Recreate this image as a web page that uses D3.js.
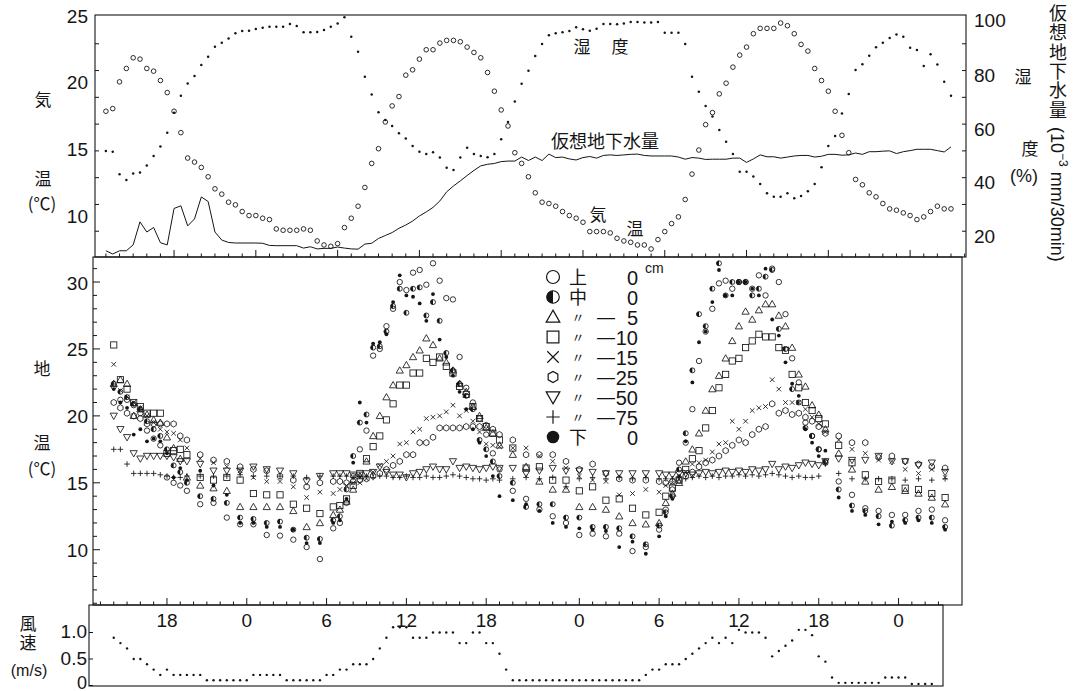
<!DOCTYPE html>
<html lang="ja">
<head>
<meta charset="utf-8">
<title>気温・湿度・地温・風速</title>
<script src="https://cdn.jsdelivr.net/npm/d3@7/dist/d3.min.js"></script>
<style>
  html, body { margin: 0; padding: 0; background: #fff; }
  svg { display: block; }
  text { fill: #151515; }
  .num { font-family: "Liberation Sans", Arial, sans-serif; }
  .jp { font-family: "Noto Sans CJK JP", "Noto Sans CJK SC", sans-serif; }
</style>
</head>
<body>
<svg id="chart" width="1076" height="691"></svg>
<script>
// ---------- Air record (half-hourly from 13:00, hours counted from day-1 00:00) ----------
const airStartHour = 13;
const airStepHour = 0.5;
const airTemp = [
  17.8,18.0,20.0,21.0,21.8,21.7,21.0,20.8,20.1,19.2,
  17.8,16.2,14.3,14.0,13.6,12.9,12.0,11.6,11.0,10.8,
  10.3,10.0,10.0,9.8,9.7,9.0,8.9,8.9,8.9,9.0,
  8.9,8.1,7.8,7.7,7.9,9.1,9.8,10.7,12.1,13.9,
  15.0,17.0,18.2,18.9,20.5,20.9,21.7,22.4,22.4,22.9,
  23.1,23.1,23.0,22.6,22.2,21.8,20.7,19.3,17.9,16.7,
  14.7,13.9,12.9,11.7,11.0,10.9,10.7,10.3,10.0,9.8,
  9.5,8.8,8.8,8.8,8.7,8.3,8.1,8.0,7.8,7.8,
  7.5,8.2,8.8,9.4,9.9,11.2,13.1,14.9,16.8,17.7,
  19.1,19.9,21.1,22.0,22.6,23.6,24.0,24.0,24.0,24.4,
  24.2,23.6,22.8,22.3,21.0,20.1,19.3,17.8,16.0,14.7,
  12.7,12.3,11.7,11.4,10.9,10.5,10.4,10.2,10.0,9.7,
  9.9,10.3,10.7,10.5,10.5
];
const humidity = [
  50.0,49.7,41.3,39.1,41.6,41.9,44.5,48.1,51.6,56.8,
  64.2,70.6,75.2,78.0,82.1,85.2,88.9,90.4,92.0,93.9,
  94.8,94.9,95.5,96.0,96.4,96.4,96.4,97.4,96.6,94.3,
  94.3,94.4,95.1,96.4,97.6,99.9,92.6,87.0,77.7,71.1,
  64.4,61.5,59.3,56.6,54.6,51.8,49.7,48.8,49.5,47.5,
  43.7,42.9,47.5,51.2,48.8,48.1,47.6,48.8,54.3,60.8,
  68.4,75.1,79.9,85.4,89.9,93.2,93.9,94.3,94.8,96.2,
  95.4,94.9,95.6,97.4,97.4,97.3,97.6,98.1,98.1,97.9,
  97.9,98.1,94.1,94.1,94.1,89.9,77.7,72.1,66.8,62.8,
  57.8,53.4,48.8,42.2,42.2,40.4,37.6,34.2,32.9,32.9,
  34.2,32.3,33.2,34.9,37.6,43.9,51.8,55.6,64.0,71.2,
  80.2,82.4,85.5,88.7,90.4,92.2,93.5,92.6,88.5,87.7,
  81.7,86.1,82.3,75.8,70.6
];
// virtual groundwater amount (10^-3 mm / 30 min), same right-hand scale
const groundwater = [
  12.7,11.5,12.7,12.7,14.9,23.5,19.7,21.4,15.7,14.9,
  28.5,29.5,22.0,24.6,32.8,31.1,19.7,16.7,15.8,15.6,
  15.6,15.6,15.6,15.5,14.7,14.6,14.6,14.6,14.6,13.7,
  14.2,13.4,13.6,13.6,14.1,13.7,13.4,13.3,15.2,15.5,
  17.3,18.4,19.5,21.1,22.3,23.8,25.7,27.2,28.9,31.3,
  34.7,36.9,38.8,40.8,42.7,44.4,45.0,45.3,46.0,46.2,
  46.2,47.7,46.4,47.7,46.4,48.8,47.5,47.7,47.0,46.6,
  47.5,47.9,47.3,48.3,48.5,48.3,48.5,48.7,48.8,48.3,
  48.1,48.1,48.1,48.1,47.7,46.9,47.5,47.3,46.8,46.9,
  46.9,46.9,47.3,47.3,45.7,47.0,48.5,47.8,47.8,47.3,
  47.7,48.1,48.3,48.3,47.7,48.0,48.7,48.7,48.4,48.5,
  49.2,48.7,49.7,49.7,49.9,50.0,49.0,49.7,50.1,50.6,
  50.6,50.6,50.1,49.6,51.5
];

// ---------- Wind speed (m/s), half-hourly on the lower time axis ----------
const windStartHour = 14;
const windStepHour = 0.5;
const windSpeed = [
  0.9,0.8,0.7,0.5,0.5,0.4,0.3,0.2,0.3,0.2,0.2,0.2,0.2,0.2,
  0.1,0.1,0.1,0.1,0.1,0.1,0.1,0.2,0.2,0.2,0.2,0.2,
  0.1,0.1,0.1,0.1,0.1,0.1,0.2,0.2,0.3,0.3,0.4,0.4,0.4,0.5,0.7,0.9,
  1.1,1.1,1.1,0.9,0.9,0.9,1.0,1.0,1.0,1.0,0.8,0.8,1.0,1.0,0.8,0.8,0.6,0.3,
  0.1,0.1,0.1,0.1,0.1,0.1,0.1,0.1,0.1,0.1,0.1,0.1,0.1,0.1,0.1,0.1,0.1,0.1,0.1,0.1,
  0.2,0.3,0.3,0.4,0.4,0.4,0.5,0.6,0.7,0.8,0.9,0.8,0.9,0.8,1.05,1.0,1.0,1.0,0.9,
  0.55,0.65,0.75,0.85,1.05,1.05,0.95,0.55,0.45,0.15,
  0.05,0.05,0.05,0.05,0.05,0.05,0.05,0.15,0.15,0.15,0.15,0.03,0.03,0.03,0.03
];

// ---------- Soil temperature (deg C) at the sampling hours of the lower time axis ----------
const soilHours = [
  14,14.5,15,15.5,16,16.5,17,17.5,18,18.5,19,19.5,
  20.5,21.5,22.5,23.5,24.5,25.5,26.5,27.5,28.5,29.5,30.5,
  31,31.5,32,32.5,33,33.5,34,34.5,35,35.5,36,36.5,37,37.5,38,38.5,39,39.5,40,40.5,41,41.5,42,42.5,43,
  44,45,46,47,48,49,50,51,52,53,54,55,
  55.5,56,56.5,57,57.5,58,58.5,59,59.5,60,60.5,61,61.5,62,62.5,63,63.5,64,64.5,65,65.5,66,66.5,67,
  67.5,68.5,69.5,70.5,71.5,72.5,73.5,74.5,75.5,76.5
];
const soilUpper0 = [
  22.2,21.2,21.2,20.8,20.2,18.9,18.3,17.8,15.4,15.0,14.8,14.4,
  13.4,13.5,12.4,11.9,11.9,11.1,11.05,10.75,10.2,9.3,11.6,
  12.0,13.5,15.5,17.5,18.9,24.5,25.0,26.7,28.0,30.0,29.4,30.7,30.9,29.8,31.4,30.1,28.8,28.7,24.4,22.1,21.0,19.8,18.6,17.2,16.0,
  14.4,13.8,13.0,12.5,12.0,11.1,11.2,11.0,11.2,9.9,10.2,11.5,
  13.0,14.5,16.5,18.0,20.5,24.1,26.3,28.0,29.9,30.1,29.5,30.0,30.0,29.5,30.5,29.0,31.0,30.0,27.6,24.3,22.5,19.5,18.5,17.5,
  16.5,15.1,14.1,13.1,12.9,12.6,12.6,12.9,13.0,12.2
];
const soilMiddle0 = [
  22.4,21.8,21.4,20.9,20.5,19.6,19.0,18.5,17.5,16.3,15.8,15.0,
  14.0,13.8,13.5,12.4,12.3,12.0,12.1,11.5,10.9,10.8,12.2,
  12.5,14.5,17.0,19.5,20.1,25.1,25.2,26.3,28.2,29.5,27.7,29.5,29.6,27.5,28.5,27.1,24.7,23.4,22.4,21.5,20.5,18.2,17.5,16.6,15.5,
  15.0,13.2,13.4,13.4,12.4,12.4,11.7,11.7,11.6,11.0,10.4,11.8,
  12.8,14.0,16.0,18.7,23.4,27.6,26.7,29.5,31.4,29.0,30.0,30.0,30.0,29.0,29.5,30.4,30.9,26.5,25.0,22.0,21.0,19.1,18.5,17.5,
  16.6,14.5,13.3,12.9,12.5,11.8,12.2,12.4,12.4,11.7
];
const soilMinus5 = [
  22.4,22.7,22.4,20.0,20.5,20.1,19.7,19.5,18.4,17.6,16.8,15.4,
  14.8,14.6,14.4,13.2,13.2,13.2,13.2,12.9,11.7,12.0,12.6,
  13.0,13.6,14.5,15.5,16.6,18.5,20.0,21.4,22.3,23.4,23.8,24.4,24.9,25.8,25.3,24.3,24.0,23.4,22.4,21.8,20.7,20.0,19.1,18.7,17.8,
  17.1,16.2,15.1,14.5,14.5,13.2,13.2,13.0,12.5,12.0,11.9,12.0,
  13.5,14.2,15.0,16.6,17.5,18.7,20.4,22.0,23.0,24.3,25.6,26.7,27.8,27.2,27.9,28.35,28.35,27.5,26.7,25.1,23.1,22.2,20.8,20.1,
  19.0,17.2,16.0,15.1,14.5,14.7,14.4,14.2,13.9,13.4
];
const soilMinus10 = [
  25.3,22.7,22.0,21.0,20.7,20.2,20.2,20.2,17.2,17.4,17.5,17.1,
  15.4,15.2,15.4,15.2,14.2,14.1,14.1,13.4,13.1,12.7,13.2,
  13.3,13.8,14.8,15.7,16.8,17.7,18.5,19.7,20.9,22.3,22.3,23.2,23.2,24.3,24.0,24.4,23.7,23.2,22.2,21.6,20.7,19.8,19.2,18.7,18.2,
  17.6,16.1,16.2,15.2,15.2,14.4,14.7,13.7,13.8,13.1,12.6,12.8,
  14.0,14.6,15.2,16.0,16.8,17.4,19.1,20.4,22.1,23.1,24.1,24.3,25.1,25.6,26.1,25.9,25.9,25.1,24.9,23.1,22.1,21.0,20.4,19.8,
  19.4,17.8,16.5,15.6,15.1,15.2,14.6,14.5,14.2,13.9
];
const soilMinus15 = [
  23.85,21.9,21.4,21.0,20.6,20.0,19.5,19.0,18.8,18.7,18.2,17.6,
  16.8,16.5,16.2,15.9,15.4,15.1,15.1,14.7,13.9,14.3,14.2,
  14.5,14.8,15.0,15.0,15.3,15.8,16.3,16.6,17.0,17.9,18.0,18.8,19.0,19.8,19.9,20.0,20.3,20.8,20.0,20.4,19.6,18.8,17.9,17.8,17.7,
  17.6,17.6,17.0,16.6,16.1,15.5,15.2,15.1,14.1,14.2,14.5,14.3,
  14.8,15.0,15.3,15.8,16.4,16.5,16.7,17.3,17.9,18.0,19.6,19.0,19.6,20.4,20.6,20.7,22.7,22.0,21.0,21.0,21.0,20.5,19.9,19.4,
  18.8,18.2,17.5,17.2,16.7,16.6,16.0,15.7,16.0,15.4
];
const soilMinus25 = [
  21.0,20.6,20.2,20.0,19.8,19.4,19.4,19.4,19.4,19.4,18.5,18.2,
  17.1,16.7,16.6,16.2,16.0,15.9,15.5,15.2,14.7,15.0,15.1,
  15.1,15.0,15.1,15.2,15.3,15.5,15.7,16.0,16.3,16.6,17.1,17.1,18.0,18.0,18.4,19.1,19.1,19.1,19.1,19.2,19.2,19.2,19.3,19.0,18.6,
  18.2,17.1,17.1,17.1,16.6,16.0,16.4,15.7,15.3,15.2,15.2,15.1,
  15.0,15.1,15.2,15.5,15.8,16.2,16.5,16.7,17.0,17.4,17.8,18.2,18.0,18.6,19.0,19.2,20.9,20.2,20.4,20.1,20.2,19.9,19.6,19.2,
  18.7,18.5,18.0,18.0,16.9,17.0,16.6,16.4,16.2,16.1
];
const soilMinus50 = [
  20.0,19.0,18.4,17.2,16.8,17.0,17.0,17.0,17.0,16.9,16.6,16.6,
  16.4,15.9,15.9,15.9,16.2,16.0,15.9,15.7,15.1,15.5,15.7,
  15.7,15.7,15.6,15.6,15.7,15.8,16.2,15.8,15.6,15.6,15.4,15.7,15.8,16.0,16.2,16.0,16.0,16.6,16.1,16.2,16.1,16.0,16.1,16.2,16.1,
  16.1,15.7,15.9,16.1,15.9,15.9,15.8,15.7,15.7,15.7,15.7,15.7,
  15.6,15.6,15.7,15.7,15.6,15.7,15.8,15.7,15.8,15.9,15.8,15.9,15.8,16.0,15.9,16.0,16.4,16.0,16.2,16.1,16.3,16.5,16.4,16.3,
  16.6,16.8,16.7,16.7,17.0,16.6,16.6,16.3,16.5,15.8
];
const soilMinus75 = [
  17.5,17.5,16.4,15.7,15.7,15.7,15.7,15.6,15.5,15.4,15.4,15.5,
  15.5,15.5,15.5,15.6,15.5,15.5,15.5,15.5,15.4,15.5,15.5,
  15.5,15.5,15.4,15.5,15.5,15.4,15.5,15.5,15.4,15.4,15.5,15.4,15.4,15.5,15.4,15.4,15.5,15.6,15.5,15.4,15.3,15.3,15.2,15.3,15.2,
  15.3,15.4,15.3,15.4,14.7,15.3,15.4,15.3,15.4,15.3,15.4,15.3,
  15.3,15.3,15.4,15.3,15.4,15.5,15.4,15.5,15.4,15.5,15.5,15.6,15.5,15.6,15.5,15.6,15.7,15.6,15.5,15.4,15.5,15.4,15.4,15.5,
  16.4,15.7,15.3,15.3,15.3,15.3,15.2,15.3,15.2,15.3
];
const soilLower0 = [
  22.0,21.0,20.6,18.6,19.0,18.1,18.3,18.1,17.2,15.4,16.1,15.2,
  15.9,14.8,14.1,12.0,12.0,11.7,11.7,11.5,10.5,10.5,12.0,
  12.2,13.8,16.5,21.0,19.5,25.4,25.5,26.1,28.5,30.5,29.0,28.9,28.4,27.1,29.1,25.7,24.4,23.0,21.8,20.5,19.0,18.0,17.0,15.5,14.0,
  13.7,13.4,12.9,12.0,11.7,11.6,11.5,11.4,10.2,10.6,9.7,11.0,
  12.5,13.8,15.5,18.1,22.5,25.5,26.3,28.5,30.9,29.0,29.0,30.0,30.0,29.5,29.0,31.0,27.2,26.0,24.0,22.4,21.5,19.0,18.0,17.0,
  17.4,13.9,12.9,12.6,11.9,12.1,12.0,12.2,12.0,11.5
];

// ---------- Axis ticks and labels ----------
const topMajorHours = [18,24,30,36,42,48,54,60,66,72];
const lowTickHours = [18,24,30,36,42,49,55,61,67,73];
const lowTickLabels = ['18','0','6','12','18','0','6','12','18','0'];
const airTempTicks = [10,15,20,25];
const humidityTicks = [20,40,60,80,100];
const soilTempTicks = [10,15,20,25,30];
const windTicks = [0,0.5,1.0];
const windTickLabels = ['0','0.5','1.0'];

// legend: position label, depth (cm), marker
const legendPlace = ['上','中','〃','〃','〃','〃','〃','〃','下'];
const legendDepth = [0,0,-5,-10,-15,-25,-50,-75,0];
const legendKinds = ['circle','half','tri','square','cross','hex','tridown','plus','dot'];

// ---------- Layout ----------
const INK = '#151515';
const svg = d3.select('#chart');
const topBox = {l: 95, r: 966, t: 15, b: 257};
const midBox = {l: 93, r: 962, t: 257, b: 605};
const botBox = {l: 89, r: 943, t: 605, b: 686};

const xTop = d3.scaleLinear().domain([12.2, 76.1]).range([topBox.l, topBox.r]);
const xLow = d3.scaleLinear().domain([12.44, 77.77]).range([midBox.l, midBox.r]);
const yAir = d3.scaleLinear().domain([6.9, 25]).range([topBox.b, topBox.t]);
const yHum = d3.scaleLinear().domain([10, 100]).range([258, 17]);
const ySoil = d3.scaleLinear().domain([5.87, 31.87]).range([midBox.b, midBox.t]);
const yWind = d3.scaleLinear().domain([0, 1]).range([685.5, 632.5]);

function frame(b) {
  svg.append('rect')
    .attr('x', b.l).attr('y', b.t)
    .attr('width', b.r - b.l).attr('height', b.b - b.t)
    .attr('fill', 'none').attr('stroke', INK).attr('stroke-width', 1.1);
}
frame(topBox); frame(midBox); frame(botBox);

// ---------- Tick marks ----------
const tickG = svg.append('g').attr('stroke', INK).attr('stroke-width', 1);
// hourly ticks along the bottom of the top panel
tickG.selectAll('.tt').data(d3.range(13, 77)).join('line')
  .attr('x1', h => xTop(h)).attr('x2', h => xTop(h))
  .attr('y1', topBox.b).attr('y2', h => topBox.b - (topMajorHours.includes(h) ? 7 : 3.5));
// hourly ticks on the shared time axis of the lower panels
tickG.selectAll('.lt').data(d3.range(13, 78).filter(h => xLow(h) > botBox.l + 2 && xLow(h) < botBox.r - 2)).join('line')
  .attr('x1', h => xLow(h)).attr('x2', h => xLow(h))
  .attr('y1', midBox.b).attr('y2', h => midBox.b - (lowTickHours.includes(h) ? 7 : 3.5));
// humidity ticks on both sides of the top panel
tickG.selectAll('.hr').data(d3.range(20, 100, 10)).join('line')
  .attr('x1', topBox.r).attr('x2', topBox.r - 4)
  .attr('y1', d => yHum(d)).attr('y2', d => yHum(d));
tickG.selectAll('.hl').data(d3.range(20, 100, 10)).join('line')
  .attr('x1', topBox.l).attr('x2', topBox.l + 4)
  .attr('y1', d => yHum(d)).attr('y2', d => yHum(d));
// soil temperature ticks
tickG.selectAll('.sl').data(d3.range(6, 32)).join('line')
  .attr('x1', midBox.l).attr('x2', d => midBox.l + (d % 5 === 0 ? 7 : 4))
  .attr('y1', d => ySoil(d)).attr('y2', d => ySoil(d));
// wind ticks
tickG.selectAll('.wl').data(windTicks).join('line')
  .attr('x1', botBox.l).attr('x2', botBox.l + 4)
  .attr('y1', d => yWind(d)).attr('y2', d => yWind(d));

// ---------- Text helpers ----------
function label(x, y, str, opts = {}) {
  return svg.append('text')
    .attr('x', x).attr('y', y)
    .attr('class', opts.cls || 'num')
    .attr('font-size', opts.size || 19)
    .attr('text-anchor', opts.anchor || 'middle')
    .attr('dominant-baseline', 'central')
    .text(str);
}
// Japanese text set top to bottom; first glyph centred on (x, yFirst)
function vertical(x, yFirst, size, gap) {
  return svg.append('text')
    .attr('class', 'jp').attr('font-size', size)
    .attr('x', x).attr('y', yFirst - size / 2)
    .attr('writing-mode', 'vertical-rl')
    .attr('letter-spacing', gap);
}

airTempTicks.forEach(v => label(88, yAir(v) + 1, String(v), {anchor: 'end'}));
humidityTicks.forEach(v => label(974, yHum(v) + (v === 100 ? 3 : 5), String(v), {anchor: 'start'}));
soilTempTicks.forEach(v => label(88, ySoil(v) + 1, String(v), {anchor: 'end'}));
windTicks.forEach((v, i) => label(87, yWind(v) - (v === 0 ? 3 : 1), windTickLabels[i], {anchor: 'end', size: v === 0 ? 18 : 19}));
lowTickHours.forEach((h, i) => label(xLow(h), 620, lowTickLabels[i]));

// ---------- Axis titles ----------
const jp = {cls: 'jp', size: 17};
label(43, 98, '気', jp);
label(43, 177, '温', jp);
label(42, 202, '(℃)', jp);
label(42, 367, '地', jp);
label(42, 441, '温', jp);
label(42, 467, '(℃)', jp);
vertical(28, 624, 17, 2).text('風速');
label(29, 670, '(m/s)', {size: 16});
label(1023, 75, '湿', jp);
label(1030, 147, '度', jp);
label(1024, 176, '(%)', {size: 18});
// right-hand title, written top to bottom
vertical(1058, 13, 18, 1.4).text('仮想地下水量');
const unit = svg.append('text')
  .attr('class', 'num').attr('font-size', 18)
  .attr('transform', 'translate(1051,127) rotate(90)');
unit.append('tspan').text('(10');
unit.append('tspan').attr('font-size', 12).attr('dy', -8).text('−3');
unit.append('tspan').attr('dy', 8).text(' mm/30min)');

// annotations inside the top panel
label(582, 45, '湿', jp);
label(620, 45, '度', jp);
label(605, 140, '仮想地下水量', {cls: 'jp', size: 18});
label(598, 213, '気', jp);
label(635, 227, '温', jp);

// ---------- Top panel: air temperature, humidity, groundwater ----------
const airHours = airTemp.map((_, i) => airStartHour + i * airStepHour);
const topG = svg.append('g');
topG.append('path')
  .datum(groundwater.map((v, i) => [airHours[i], v]))
  .attr('fill', 'none').attr('stroke', INK).attr('stroke-width', 1)
  .attr('d', d3.line().x(d => xTop(d[0])).y(d => yHum(d[1])));
topG.selectAll('.hum').data(humidity).join('circle')
  .attr('cx', (d, i) => xTop(airHours[i])).attr('cy', d => yHum(d))
  .attr('r', 1.25).attr('fill', INK);
topG.selectAll('.air').data(airTemp).join('circle')
  .attr('cx', (d, i) => xTop(airHours[i])).attr('cy', d => yAir(d))
  .attr('r', 2.3).attr('fill', 'none').attr('stroke', INK).attr('stroke-width', 0.9);

// ---------- Markers ----------
function addMarker(g, kind, s, sw) {
  const p = d3.path();
  const stroke = {fill: 'none', stroke: INK, 'stroke-width': sw};
  const apply = (sel, attrs) => { Object.entries(attrs).forEach(([k, v]) => sel.attr(k, v)); return sel; };
  switch (kind) {
    case 'circle':
      apply(g.append('circle').attr('r', 2.7 * s), stroke); break;
    case 'half': {
      const r = 2.5 * s;
      apply(g.append('circle').attr('r', r), stroke);
      g.append('path').attr('d', `M0,${-r}A${r},${r} 0 0 0 0,${r}Z`).attr('fill', INK);
      break;
    }
    case 'dot':
      g.append('circle').attr('r', 1.9 * s).attr('fill', INK); break;
    case 'tri': {
      const a = 3.6 * s;
      apply(g.append('path').attr('d', `M0,${-a}L${a},${a * 0.75}L${-a},${a * 0.75}Z`), stroke); break;
    }
    case 'tridown': {
      const a = 3.6 * s;
      apply(g.append('path').attr('d', `M0,${a}L${a},${-a * 0.75}L${-a},${-a * 0.75}Z`), stroke); break;
    }
    case 'square': {
      const a = 3.1 * s;
      apply(g.append('rect').attr('x', -a).attr('y', -a).attr('width', 2 * a).attr('height', 2 * a), stroke); break;
    }
    case 'cross': {
      const a = 2.3 * s;
      apply(g.append('path').attr('d', `M${-a},${-a}L${a},${a}M${a},${-a}L${-a},${a}`), stroke); break;
    }
    case 'plus': {
      const a = 2.8 * s;
      apply(g.append('path').attr('d', `M${-a},0L${a},0M0,${-a}L0,${a}`), stroke); break;
    }
    case 'hex': {
      const r = 3.1 * s;
      const pts = d3.range(6).map(k => [r * Math.cos(Math.PI / 6 + k * Math.PI / 3), r * Math.sin(Math.PI / 6 + k * Math.PI / 3)]);
      p.moveTo(pts[0][0], pts[0][1]);
      pts.slice(1).forEach(q => p.lineTo(q[0], q[1]));
      p.closePath();
      apply(g.append('path').attr('d', p.toString()), stroke); break;
    }
  }
}

// ---------- Middle panel: soil temperature ----------
const soilSeries = [
  {values: soilMinus75, kind: 'plus'},
  {values: soilMinus50, kind: 'tridown'},
  {values: soilMinus25, kind: 'hex'},
  {values: soilMinus15, kind: 'cross'},
  {values: soilMinus10, kind: 'square'},
  {values: soilMinus5, kind: 'tri'},
  {values: soilLower0, kind: 'dot'},
  {values: soilMiddle0, kind: 'half'},
  {values: soilUpper0, kind: 'circle'}
];
const midG = svg.append('g');
soilSeries.forEach(sr => {
  sr.values.forEach((v, i) => {
    const g = midG.append('g').attr('transform', `translate(${xLow(soilHours[i])},${ySoil(v)})`);
    addMarker(g, sr.kind, 1, 0.85);
  });
});

// legend
const legG = svg.append('g');
const legendScale = {circle: 2.4, half: 2.5, tri: 1.9, square: 1.9, cross: 2.5, hex: 1.8, tridown: 1.9, plus: 2.4, dot: 3.3};
const legendRowY = i => 277 + i * 20;
legendKinds.forEach((k, i) => {
  const y = legendRowY(i);
  const g = legG.append('g').attr('transform', `translate(553,${y})`);
  addMarker(g, k, legendScale[k], 1.2);
  const d = legendDepth[i];
  if (d < 0) label(597, y, '—', {anchor: 'start', size: 18});
  label(638, y + 1, String(Math.abs(d)), {anchor: 'end', size: 20});
});
// position column (上, 中, ditto marks, 下) as one vertical run, 20 px per row
const placeCol = vertical(578, legendRowY(0), 18, 2);
placeCol.append('tspan').text(legendPlace.slice(0, 2).join(''));
placeCol.append('tspan').attr('font-size', 13).attr('letter-spacing', 7).attr('dy', 2.5)
  .text(legendPlace.slice(2, 8).join(''));
placeCol.append('tspan').attr('dy', -2.5).text(legendPlace[8]);
label(645, 268, 'cm', {anchor: 'start', size: 14});

// ---------- Bottom panel: wind speed ----------
svg.append('g').selectAll('circle').data(windSpeed).join('circle')
  .attr('cx', (d, i) => xLow(windStartHour + i * windStepHour))
  .attr('cy', d => yWind(d))
  .attr('r', 1.2).attr('fill', INK);
</script>
</body>
</html>
